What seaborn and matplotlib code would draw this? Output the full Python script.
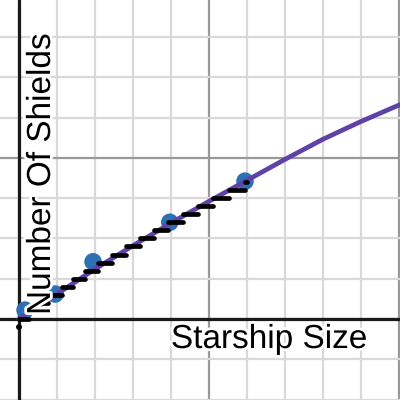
import numpy as np
import pandas as pd
import matplotlib
matplotlib.use("Agg")
import matplotlib.pyplot as plt
import matplotlib.patheffects as pe
import seaborn as sns

# ---- data ----
curve_x = [0, 1, 2, 3, 4, 5, 6, 7, 8, 9, 10.03]
curve_y = [0.0, 0.31, 0.62, 0.91, 1.19, 1.46, 1.72, 1.98, 2.23, 2.45, 2.66]

dots_x = [0.16, 0.95, 1.95, 3.97, 5.95]
dots_y = [0.11, 0.31, 0.71, 1.20, 1.71]

step_levels = [0.0, 0.1, 0.2, 0.3, 0.4, 0.5, 0.6, 0.7, 0.8, 0.9,
               1.0, 1.1, 1.2, 1.3, 1.4, 1.5, 1.6, 1.7]
step_edges = [0.0, 0.26, 0.51, 0.77, 1.14, 1.43, 1.75, 2.08, 2.44, 2.81,
              3.18, 3.55, 3.93, 4.32, 4.70, 5.12, 5.54, 5.95, 6.0]
start_x = [0.0]
start_y = [-0.1]

x_label = "Starship Size"
y_label = "Number Of Shields"

# ---- build tables ----
curve_df = pd.DataFrame({"x": curve_x, "y": curve_y})
dots_df = pd.DataFrame({"x": dots_x, "y": dots_y})
rows = []
for i, lvl in enumerate(step_levels):
    rows.append({"x": step_edges[i], "y": lvl, "seg": i})
    rows.append({"x": step_edges[i + 1], "y": lvl, "seg": i})
steps_df = pd.DataFrame(rows)
start_df = pd.DataFrame({"x": start_x, "y": start_y})

sns.set_theme(style="white")
plt.rcParams["font.family"] = ["Liberation Sans", "DejaVu Sans"]

fig = plt.figure(figsize=(4, 4), dpi=100)
ax = fig.add_axes([0, 0, 1, 1])

# marks
sns.scatterplot(data=dots_df, x="x", y="y", s=160, color="#2d70b3",
                edgecolor="none", ax=ax, zorder=3)
sns.lineplot(data=curve_df, x="x", y="y", color="#6042a6", lw=3.4,
             ax=ax, zorder=4, sort=False)
sns.lineplot(data=steps_df, x="x", y="y", units="seg", estimator=None,
             color="black", lw=3.4, solid_capstyle="round", ax=ax,
             zorder=5, sort=False)
sns.scatterplot(data=start_df, x="x", y="y", s=18, color="black",
                edgecolor="none", ax=ax, zorder=5)

ax.set_xlabel("")
ax.set_ylabel("")

xmin, xmax = -0.5, 10.03
ymin, ymax = -1.005, 3.958

# grid
ax.set_xticks(np.arange(0, 11, 5))
ax.set_xticks(np.arange(-1, 11, 1), minor=True)
ax.set_yticks(np.arange(-2, 5, 2))
ax.set_yticks(np.arange(-1, 4.5, 0.5), minor=True)
ax.set_xlim(xmin, xmax)
ax.set_ylim(ymin, ymax)
ax.grid(True, which="minor", color="#d9d9d9", lw=1.6)
ax.grid(True, which="major", color="#999999", lw=1.6)
ax.tick_params(which="both", length=0, labelbottom=False, labelleft=False)
for s in ax.spines.values():
    s.set_visible(False)
ax.set_axisbelow(True)
ax.axhline(0, color="#1a1a1a", lw=2.3, zorder=1.5)
ax.axvline(0, color="#1a1a1a", lw=2.3, zorder=1.5)

halo = [pe.withStroke(linewidth=4, foreground="white")]
ax.text(4.0, -0.36, x_label, fontsize=24, ha="left", va="baseline",
        color="black", path_effects=halo, zorder=6)
ax.text(0.816, 0.05, y_label, fontsize=24, ha="left", va="baseline",
        rotation=90, rotation_mode="anchor", color="black",
        path_effects=halo, zorder=6)

fig.savefig("out.png", dpi=100)
